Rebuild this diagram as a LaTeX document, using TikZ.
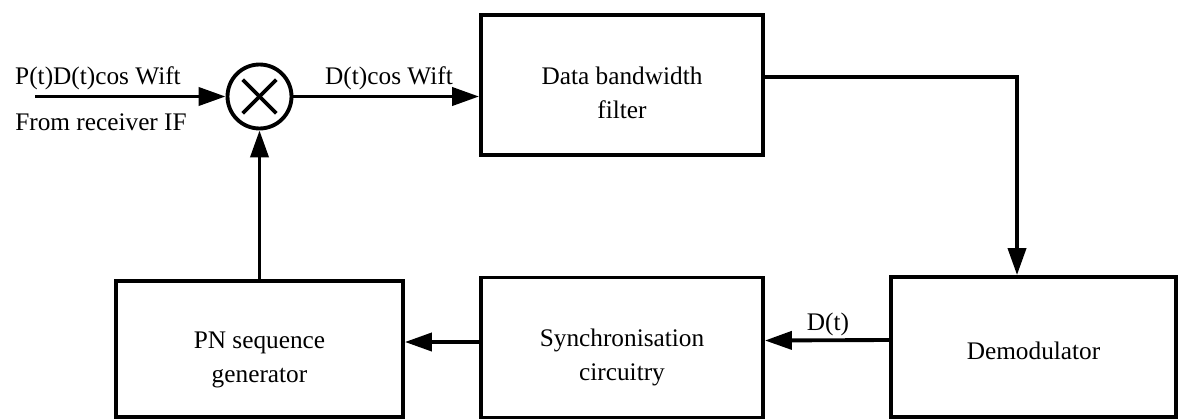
\documentclass[tikz,border=0pt]{standalone}
\usepackage{fontspec}
\setmainfont{Liberation Serif}
\usetikzlibrary{arrows.meta,calc,positioning}

\begin{document}
\begin{tikzpicture}[
  x=0.02cm, y=-0.02cm,
  block/.style={rectangle, draw=black, line width=2.2pt, minimum width=5.64cm, minimum height=2.8cm},
  block text/.style={align=center, inner sep=0pt, font=\fontsize{14.4}{19.3}\selectfont},
  mixer/.style={circle, draw=black, line width=2.2pt, minimum size=1.28cm, inner sep=0pt},
  signal label/.style={font=\fontsize{14.4}{17}\selectfont, inner sep=1pt},
  wire/.style={line width=2.2pt},
  >={Triangle[length=0.54cm, width=0.36cm]}
]
  \useasboundingbox (0,0) rectangle (1183,419);
  % Blocks
  \node[mixer] (mix) at (259.5, 96.5) {};
  \node[block] (filt) at (622, 85) {};
  \node[block, minimum width=5.7cm] (demod) at (1033.5, 347) {};
  \node[block] (sync) at (622, 347.5) {};
  \node[block, minimum width=5.74cm, minimum height=2.72cm] (pn) at (259.5, 349) {};
  \draw[wire] ($(mix.center)!0.7!(mix.north west)$) -- ($(mix.center)!0.7!(mix.south east)$);
  \draw[wire] ($(mix.center)!0.7!(mix.north east)$) -- ($(mix.center)!0.7!(mix.south west)$);
  % Block texts
  \node[block text] (filt text) at ([yshift=-0.16cm]filt.center) {Data bandwidth\\filter};
  \node[block text] (demod text) at ([yshift=-0.08cm]demod.center) {Demodulator};
  \node[block text] (sync text) at ([yshift=-0.2cm]sync.center) {Synchronisation\\circuitry};
  \node[block text] (pn text) at ([yshift=-0.22cm]pn.center) {PN sequence\\generator};
  % Signal labels
  \coordinate (in) at (35, 96.5);
  \node[signal label] (inlab) at (98, 78) {P(t)D(t)cos Wift};
  \node[signal label] (srclab) at (101, 122) {From receiver IF};
  \node[signal label] (mixlab) at (389, 78) {D(t)cos Wift};
  \node[signal label] (dlab) at (828, 324) {D(t)};
  % Connections
  \draw[wire, ->] (in) -- (mix);
  \draw[wire, ->] (mix) -- (mix -| filt.west);
  \draw[wire, ->] ([yshift=0.16cm]filt.east) -| ([xshift=-0.33cm]demod.north);
  \draw[wire, ->] ([yshift=0.14cm]demod.west) -- ([yshift=0.14cm]sync.east);
  \draw[wire, ->] ([yshift=0.11cm]sync.west) -- ([yshift=0.11cm]sync.west -| pn.east);
  \draw[wire, ->] (pn) -- (mix);
\end{tikzpicture}
\end{document}
